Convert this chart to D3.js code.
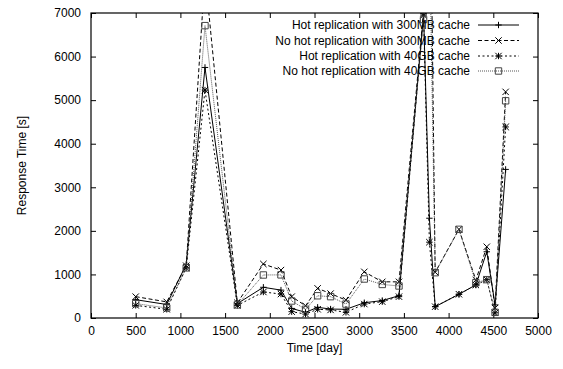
<!DOCTYPE html>
<html>
<head>
<meta charset="utf-8">
<script src="https://cdn.jsdelivr.net/npm/d3@7"></script>
<style>
  html, body { margin: 0; padding: 0; background: #fff; }
  svg { display: block; }
  text { font-family: "Liberation Sans", Arial, Helvetica, sans-serif; font-size: 12px; fill: #000; }
</style>
</head>
<body>
<svg id="chart" width="563" height="369"></svg>
<script>
// Sampling days
const days = [500, 847, 1065, 1275, 1637, 1928, 2125, 2245, 2400, 2535, 2680, 2852, 3057, 3258, 3445, 3720, 3785, 3850, 4116, 4305, 4427, 4520, 4638];

// Response times [s] per configuration
const hot300   = [420, 310, 1230, 5750, 330, 705, 640, 220, 130, 245, 205, 200, 350, 400, 512, 6980, 2290, 260, 545, 760, 1520, 300, 3410];
const noHot300 = [490, 370, 1200, 7900, 350, 1240, 1100, 490, 280, 680, 560, 410, 1060, 830, 830, 7050, 12000, 1050, 2035, 870, 1635, 230, 5190];
const hot40    = [290, 200, 1150, 5230, 290, 597, 550, 145, 90, 200, 185, 130, 320, 375, 490, 6950, 1740, 260, 545, 757, 880, 120, 4385];
const noHot40  = [330, 230, 1150, 6710, 300, 987, 990, 390, 200, 510, 490, 320, 895, 770, 735, 6850, 9000, 1040, 2035, 810, 880, 130, 4985];

const seriesNames = [
  "Hot replication with 300MB cache",
  "No hot replication with 300MB cache",
  "Hot replication with 40GB cache",
  "No hot replication with 40GB cache"
];

const xTicks = [0, 500, 1000, 1500, 2000, 2500, 3000, 3500, 4000, 4500, 5000];
const yTicks = [0, 1000, 2000, 3000, 4000, 5000, 6000, 7000];

const styles = [
  { dash: null,    color: "#000", width: 1,   marker: "plus" },
  { dash: "4,2.5", color: "#000", width: 1,   marker: "cross" },
  { dash: "2,2.5", color: "#000", width: 1,   marker: "star" },
  { dash: "1,1",   color: "#444", width: 0.9, marker: "box" }
];

const values = [hot300, noHot300, hot40, noHot40];

const plotL = 91, plotR = 538, plotT = 13, plotB = 318;
const x = d3.scaleLinear().domain([0, 5000]).range([plotL, plotR]);
const y = d3.scaleLinear().domain([0, 7000]).range([plotB, plotT]);

const svg = d3.select("#chart");

svg.append("defs").append("clipPath").attr("id", "plotClip")
  .append("rect").attr("x", plotL).attr("y", plotT)
  .attr("width", plotR - plotL).attr("height", plotB - plotT);

// Axes with inward ticks, mirrored on top and right
const tickLen = 5;
const xAxis = d3.axisBottom(x).tickValues(xTicks).tickSize(-tickLen).tickPadding(8).tickFormat(d3.format("d"));
const xAxisTop = d3.axisTop(x).tickValues(xTicks).tickSize(-tickLen).tickFormat("");
const yAxis = d3.axisLeft(y).tickValues(yTicks).tickSize(-tickLen).tickPadding(10).tickFormat(d3.format("d"));
const yAxisRight = d3.axisRight(y).tickValues(yTicks).tickSize(-tickLen).tickFormat("");

function styleAxis(g) {
  g.select(".domain").remove();
  g.selectAll(".tick line").attr("stroke", "#000").attr("stroke-width", 1);
  g.selectAll(".tick text").attr("font-size", 12).attr("font-family", null);
}

svg.append("g").attr("transform", `translate(0,${plotB})`).call(xAxis).call(styleAxis);
svg.append("g").attr("transform", `translate(0,${plotT})`).call(xAxisTop).call(styleAxis);
svg.append("g").attr("transform", `translate(${plotL},0)`).call(yAxis).call(styleAxis);
svg.append("g").attr("transform", `translate(${plotR},0)`).call(yAxisRight).call(styleAxis);

svg.append("rect").attr("x", plotL).attr("y", plotT)
  .attr("width", plotR - plotL).attr("height", plotB - plotT)
  .attr("fill", "none").attr("stroke", "#000").attr("stroke-width", 1.2);

// Axis titles
svg.append("text").attr("x", (plotL + plotR) / 2).attr("y", 352)
  .attr("text-anchor", "middle").text("Time [day]");
svg.append("text")
  .attr("transform", `translate(26,${(plotT + plotB) / 2}) rotate(-90)`)
  .attr("text-anchor", "middle").text("Response Time [s]");

// Marker shapes
function drawMarker(g, type, cx, cy, color) {
  const s = 3.2;
  const p = d3.path();
  if (type === "plus" || type === "star") {
    p.moveTo(cx - s, cy); p.lineTo(cx + s, cy);
    p.moveTo(cx, cy - s); p.lineTo(cx, cy + s);
  }
  if (type === "cross" || type === "star") {
    p.moveTo(cx - s, cy - s); p.lineTo(cx + s, cy + s);
    p.moveTo(cx - s, cy + s); p.lineTo(cx + s, cy - s);
  }
  if (type === "box") {
    p.rect(cx - s, cy - s, 2 * s, 2 * s);
  }
  g.append("path").attr("d", p.toString()).attr("fill", "none")
    .attr("stroke", color).attr("stroke-width", 1);
}

const line = d3.line().x(d => x(d[0])).y(d => y(d[1]));
const plot = svg.append("g").attr("clip-path", "url(#plotClip)");

values.forEach((vals, i) => {
  const st = styles[i];
  const pts = days.map((d, j) => [d, vals[j]]);
  plot.append("path").datum(pts).attr("d", line)
    .attr("fill", "none").attr("stroke", st.color).attr("stroke-width", st.width)
    .attr("stroke-dasharray", st.dash);
  const mg = plot.append("g");
  pts.forEach(p => drawMarker(mg, st.marker, x(p[0]), y(p[1]), st.color));
});

// Legend
const legY = [25, 40.5, 56, 71];
const leg = svg.append("g");
seriesNames.forEach((name, i) => {
  const st = styles[i];
  leg.append("text").attr("x", 470).attr("y", legY[i]).attr("dy", "0.35em")
    .attr("text-anchor", "end").text(name);
  leg.append("line").attr("x1", 478).attr("x2", 519).attr("y1", legY[i]).attr("y2", legY[i])
    .attr("stroke", st.color).attr("stroke-width", st.width).attr("stroke-dasharray", st.dash);
  drawMarker(leg, st.marker, 498.5, legY[i], st.color);
});
</script>
</body>
</html>
